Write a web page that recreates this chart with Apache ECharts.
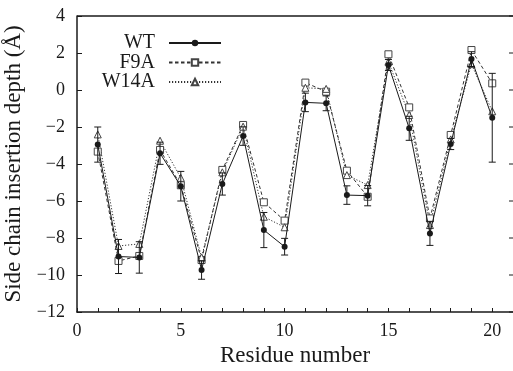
<!DOCTYPE html>
<html><head><meta charset="utf-8">
<script src="https://cdn.jsdelivr.net/npm/echarts@6/dist/echarts.min.js"></script>
<style>html,body{margin:0;padding:0;background:#fff}#c{width:513px;height:371px}</style>
</head><body><div id="c"></div>
<script>
const residues = [1,2,3,4,5,6,7,8,9,10,11,12,13,14,15,16,17,18,19,20];
const wt   = [-2.95,-9.0,-9.05,-3.42,-5.2,-9.73,-5.08,-2.49,-7.57,-8.47,-0.67,-0.72,-5.68,-5.71,1.35,-2.07,-7.75,-2.92,1.67,-1.5];
const wtErr= [0.95,0.92,0.85,0.6,0.8,0.5,0.6,0.5,0.95,0.45,0.5,0.4,0.5,0.55,0.3,0.65,0.65,0.3,0.4,2.4];
const f9a  = [-3.33,-9.24,-8.97,-3.24,-5.15,-9.19,-4.32,-1.89,-6.07,-7.06,0.4,-0.09,-4.36,-5.77,1.93,-0.94,-6.94,-2.43,2.16,0.36];
const w14a = [-2.4,-8.43,-8.32,-2.74,-4.75,-9.05,-4.45,-1.98,-6.85,-7.42,0.12,0.06,-4.6,-5.14,1.53,-1.35,-7.3,-2.67,1.4,-1.15];
const seriesNames = ['WT','F9A','W14A'];
const xTickLabels = [0,5,10,15,20];
const yTicks = [-12,-10,-8,-6,-4,-2,0,2,4];
const xMin = 0, xMax = 21, yMin = -12, yMax = 4;

const FONT = '"Liberation Serif","DejaVu Serif",serif';
const INK = '#1a1a1a';
const minus = v => String(v).replace('-', '\u2212');

const chart = echarts.init(document.getElementById('c'), null, {renderer:'canvas'});
const pairs = arr => residues.map((r,i)=>[r, arr[i]]);

const legendBase = (name, top) => ({
  data:[name], orient:'vertical', align:'right', right:291, top:top, padding:0,
  itemWidth:52, itemHeight:8,
  textStyle:{fontFamily:FONT, fontSize:20, color:INK, lineHeight:20, padding:[0,9,0,0]}
});

chart.setOption({
  animation:false,
  backgroundColor:'#fff',
  grid:{left:77, right:0, top:16, bottom:59, outerBoundsMode:'none', containLabel:false},
  legend:[legendBase('WT',33), legendBase('F9A',52.5), legendBase('W14A',72)],
  xAxis:{
    type:'value', min:xMin, max:xMax, interval:1,
    name:'Residue number', nameLocation:'middle', nameGap:30,
    nameTextStyle:{fontFamily:FONT, fontSize:23, color:INK},
    axisLine:{show:true, onZero:false, lineStyle:{color:INK, width:1.5}},
    axisTick:{inside:true, length:4, lineStyle:{color:INK}},
    axisLabel:{fontFamily:FONT, fontSize:18, color:INK, margin:10,
      formatter:v => xTickLabels.includes(v) ? String(v) : ''},
    splitLine:{show:false}
  },
  yAxis:{
    type:'value', min:yMin, max:yMax, interval:2,
    name:'Side chain insertion depth (Å)', nameLocation:'middle', nameGap:50,
    nameTextStyle:{fontFamily:FONT, fontSize:23, color:INK},
    axisLine:{show:true, onZero:false, lineStyle:{color:INK, width:1.5}},
    axisTick:{show:true, inside:true, length:5, lineStyle:{color:INK}},
    axisLabel:{fontFamily:FONT, fontSize:18, color:INK, margin:12,
      formatter:v => yTicks.includes(v) ? minus(v) : ''},
    splitLine:{show:false}
  },
  series:[
    {
      name:seriesNames[0], type:'line', data:pairs(wt), z:4,
      symbol:'circle', symbolSize:6,
      lineStyle:{color:INK, width:1, type:'solid'},
      itemStyle:{color:INK, borderColor:INK, borderWidth:0}
    },
    {
      name:seriesNames[1], type:'line', data:pairs(f9a), z:3,
      symbol:'rect', symbolSize:7,
      lineStyle:{color:'#333', width:1, type:[3.5,2.5]},
      itemStyle:{color:'#fff', borderColor:'#444', borderWidth:1}
    },
    {
      name:seriesNames[2], type:'line', data:pairs(w14a), z:3,
      symbol:'triangle', symbolSize:7,
      lineStyle:{color:'#333', width:1, type:[1.2,1.8]},
      itemStyle:{color:'#fff', borderColor:'#444', borderWidth:1}
    },
    {
      name:'WT error', type:'custom', z:5,
      data: residues.map((r,i)=>[r, wt[i]-wtErr[i], wt[i]+wtErr[i]]),
      renderItem:(params, api) => {
        const x = api.value(0);
        const p1 = api.coord([x, api.value(2)]);
        const p2 = api.coord([x, api.value(1)]);
        const w = 3.5;
        const st = {stroke:INK, lineWidth:1};
        return {type:'group', children:[
          {type:'line', shape:{x1:p1[0], y1:p1[1], x2:p2[0], y2:p2[1]}, style:st},
          {type:'line', shape:{x1:p1[0]-w, y1:p1[1], x2:p1[0]+w, y2:p1[1]}, style:st},
          {type:'line', shape:{x1:p2[0]-w, y1:p2[1], x2:p2[0]+w, y2:p2[1]}, style:st}
        ]};
      }
    },
    {
      name:'frame top', type:'custom', z:6, silent:true, clip:false,
      data:[[xMin, yMax, xMax]],
      renderItem:(params, api) => {
        const a = api.coord([api.value(0), api.value(1)]);
        const b = api.coord([api.value(2), api.value(1)]);
        return {type:'line', shape:{x1:a[0], y1:a[1], x2:b[0], y2:b[1]},
                style:{stroke:INK, lineWidth:1.5}};
      }
    },
    {
      name:'frame right ticks', type:'custom', z:6, silent:true, clip:false,
      data: yTicks.map(v => [xMax, v]),
      renderItem:(params, api) => {
        const p = api.coord([api.value(0), api.value(1)]);
        return {type:'line', shape:{x1:p[0]-4, y1:p[1], x2:p[0], y2:p[1]},
                style:{stroke:INK, lineWidth:1}};
      }
    }
  ]
});
</script>
</body></html>
